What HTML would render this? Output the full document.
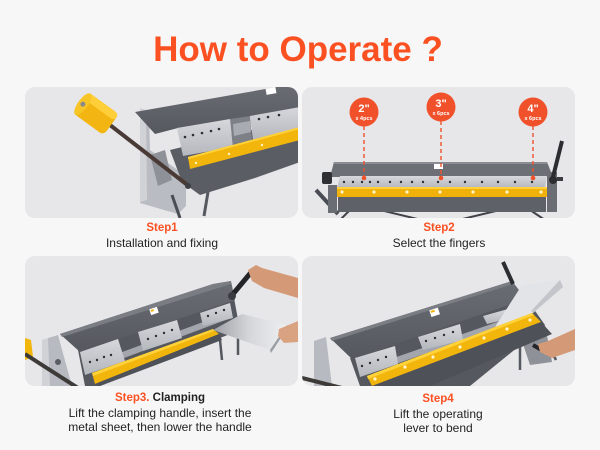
<!DOCTYPE html>
<html><head><meta charset="utf-8"><style>
html,body{margin:0;padding:0;background:#f7f7f7;}
svg{display:block;}
</style></head><body>
<svg width="600" height="450" viewBox="0 0 600 450" xmlns="http://www.w3.org/2000/svg" font-family="'Liberation Sans', sans-serif">
<defs>
<clipPath id="c1"><rect x="25" y="87" width="273" height="131" rx="10"/></clipPath>
<clipPath id="c2"><rect x="302" y="87" width="273" height="131" rx="10"/></clipPath>
<clipPath id="c3"><rect x="25" y="256" width="273" height="130" rx="10"/></clipPath>
<clipPath id="c4"><rect x="302" y="256" width="273" height="130" rx="10"/></clipPath>
<linearGradient id="sil" x1="0" y1="0" x2="0" y2="1"><stop offset="0" stop-color="#d6d8dc"/><stop offset="1" stop-color="#b4b7bd"/></linearGradient>
<linearGradient id="sheet" x1="0" y1="0" x2="1" y2="0"><stop offset="0" stop-color="#9da0a6"/><stop offset="0.5" stop-color="#d6d7da"/><stop offset="1" stop-color="#eeeff1"/></linearGradient>
<linearGradient id="beam" x1="0" y1="0" x2="0" y2="1"><stop offset="0" stop-color="#6a6d74"/><stop offset="1" stop-color="#55585e"/></linearGradient>
</defs>
<rect width="600" height="450" fill="#f7f7f7"/>
<text x="298" y="61" text-anchor="middle" font-size="35" font-weight="bold" fill="#fb5122">How to Operate ?</text>

<!-- Panel 1 -->
<g clip-path="url(#c1)">
<rect x="25" y="87" width="273" height="131" fill="#e7e7e9"/>
<!-- legs -->
<line x1="210" y1="180" x2="204" y2="216" stroke="#55585e" stroke-width="3"/>
<line x1="285" y1="155" x2="240" y2="175" stroke="#6a6d74" stroke-width="2"/>
<!-- left frame -->
<polygon points="140,108 149,112 150,150 186,176 186,206 178,214 140,203" fill="#b9bcc2"/>
<polygon points="140,108 146,110 147,200 140,202" fill="#d0d2d6"/>
<line x1="172" y1="195" x2="180" y2="218" stroke="#4a4d53" stroke-width="3"/>
<!-- lower body -->
<polygon points="170,150 300,118 300,162 255,178 200,195 182,182" fill="#5a5d63"/>
<!-- beam -->
<polygon points="135,112 288,85 300,85 300,108 230,120 178,128 155,134" fill="url(#beam)"/>
<rect x="266" y="88" width="10" height="6" fill="#fff" transform="rotate(-10 271 91)"/>
<!-- plates -->
<polygon points="177,128 230,119 233,147 183,156" fill="url(#sil)"/>
<polygon points="230,119 250,116 252,140 233,147" fill="#7d8087"/>
<polygon points="233,124 250,121 251,132 234,136" fill="#a8abb1"/>
<polygon points="250,116 300,107 300,133 253,140" fill="url(#sil)"/>
<g fill="#2d2f33">
<circle cx="185" cy="137" r="1.3"/><circle cx="193" cy="135" r="1.3"/><circle cx="202" cy="133" r="1.3"/><circle cx="211" cy="131" r="1.3"/><circle cx="219" cy="129" r="1.3"/>
<circle cx="259" cy="119" r="1.3"/><circle cx="268" cy="117" r="1.3"/><circle cx="279" cy="115" r="1.3"/>
</g>
<!-- yellow bar -->
<polygon points="188,157 300,127 300,140 190,169" fill="#f2b50c"/>
<polygon points="188,157 300,127 300,129 188,159" fill="#ffd23a"/>
<circle cx="196" cy="163" r="1.2" fill="#fff3c0"/><circle cx="229" cy="154" r="1.2" fill="#fff3c0"/><circle cx="262" cy="145" r="1.2" fill="#fff3c0"/>
<!-- rod & mechanism -->
<polygon points="150,155 165,150 172,180 158,186" fill="#8e9197"/>
<line x1="110" y1="125" x2="190" y2="187" stroke="#4a3a35" stroke-width="4"/>
<circle cx="188" cy="186" r="3" fill="#3d3f44"/>
<!-- cylinder -->
<g transform="rotate(36 95 113)">
<rect x="77" y="100" width="38" height="26" rx="5" fill="#f3b512"/>
<rect x="77" y="100" width="38" height="8" rx="4" fill="#ffcf3a"/>
<ellipse cx="80" cy="113" rx="5" ry="13" fill="#f8c526"/>
<circle cx="80" cy="113" r="2.5" fill="#8a8a8a"/>
</g>
</g>
<text x="162" y="231" text-anchor="middle" font-size="11.5" font-weight="bold" fill="#fb5122">Step1</text>
<text x="162" y="247" text-anchor="middle" font-size="12" fill="#222">Installation and fixing</text>

<!-- Panel 2 -->
<g clip-path="url(#c2)">
<rect x="302" y="87" width="273" height="131" fill="#e7e7e9"/>
<!-- legs -->
<g stroke="#3f4247" stroke-width="2">
<line x1="350" y1="210" x2="340" y2="220"/><line x1="380" y1="210" x2="430" y2="222"/><line x1="500" y1="210" x2="450" y2="222"/><line x1="530" y1="210" x2="545" y2="220"/>
</g>
<!-- body -->
<rect x="338" y="196" width="208" height="16" fill="#5e6168"/>
<!-- top plate -->
<polygon points="334,162 547,162 553,177 330,177" fill="#6c6f76"/>
<polygon points="334,162 547,162 548,164 333,164" fill="#8a8d93"/>
<rect x="434" y="164" width="9" height="5" fill="#fff"/>
<!-- silver strip -->
<polygon points="340,176 547,176 545,188 337,188" fill="url(#sil)"/>
<g fill="#2d2f33">
<circle cx="344" cy="182" r="1.2"/><circle cx="353" cy="182" r="1.2"/><circle cx="362" cy="182" r="1.2"/><circle cx="370" cy="182" r="1.2"/><circle cx="378" cy="182" r="1.2"/><circle cx="390" cy="182" r="1.2"/><circle cx="401" cy="182" r="1.2"/><circle cx="412" cy="182" r="1.2"/><circle cx="423" cy="182" r="1.2"/><circle cx="438" cy="182" r="1.2"/><circle cx="450" cy="182" r="1.2"/><circle cx="465" cy="182" r="1.2"/><circle cx="482" cy="182" r="1.2"/><circle cx="498" cy="182" r="1.2"/><circle cx="515" cy="182" r="1.2"/><circle cx="532" cy="182" r="1.2"/>
</g>
<!-- yellow bar -->
<rect x="337" y="187" width="211" height="10" fill="#f0b20a"/>
<rect x="337" y="187" width="211" height="2" fill="#ffd03a"/>
<g fill="#fff4cc">
<circle cx="342" cy="192" r="1.6"/><circle cx="374" cy="192" r="1.6"/><circle cx="407" cy="192" r="1.6"/><circle cx="440" cy="192" r="1.6"/><circle cx="473" cy="192" r="1.6"/><circle cx="507" cy="192" r="1.6"/><circle cx="541" cy="192" r="1.6"/>
</g>
<!-- left mechanism -->
<rect x="322" y="172" width="10" height="12" rx="2" fill="#2e3034"/>
<line x1="316" y1="190" x2="338" y2="214" stroke="#4a4d53" stroke-width="4"/>
<rect x="328" y="185" width="9" height="28" fill="#6a6d73"/>
<!-- right mechanism -->
<rect x="547" y="172" width="10" height="40" fill="#6a6d73"/>
<line x1="562" y1="141" x2="553" y2="177" stroke="#2b2d31" stroke-width="4"/>
<circle cx="553" cy="180" r="4" fill="#2b2d31"/>
<rect x="557" y="177" width="6" height="4" fill="#3a3c40"/>
<!-- callouts -->
<g stroke="#f0502a" stroke-width="1.4" stroke-dasharray="4 3">
<line x1="364" y1="126" x2="364" y2="176"/><line x1="441" y1="121" x2="441" y2="176"/><line x1="533" y1="126" x2="533" y2="176"/>
</g>
<g fill="#f0502a">
<circle cx="364" cy="178" r="2.3"/><circle cx="441" cy="178" r="2.3"/><circle cx="533" cy="178" r="2.3"/>
<circle cx="364" cy="112" r="14.5"/><circle cx="441" cy="107" r="14.5"/><circle cx="533" cy="112" r="14.5"/>
</g>
<g fill="#fff" font-weight="bold" text-anchor="middle">
<text x="364" y="112" font-size="11">2"</text><text x="364" y="120" font-size="5.5">x 4pcs</text>
<text x="441" y="107" font-size="11">3"</text><text x="441" y="115" font-size="5.5">x 6pcs</text>
<text x="533" y="112" font-size="11">4"</text><text x="533" y="120" font-size="5.5">x 6pcs</text>
</g>
</g>
<text x="439" y="231" text-anchor="middle" font-size="11.5" font-weight="bold" fill="#fb5122">Step2</text>
<text x="439" y="247" text-anchor="middle" font-size="12" fill="#222">Select the fingers</text>

<!-- Panel 3 -->
<g clip-path="url(#c3)">
<rect x="25" y="256" width="273" height="130" fill="#e7e7e9"/>
<!-- right stand legs -->
<g stroke="#55585e" stroke-width="2.5">
<line x1="218" y1="320" x2="222" y2="360"/><line x1="238" y1="318" x2="238" y2="355"/>
</g>
<!-- left frame -->
<polygon points="42,340 58,335 72,386 42,386" fill="#b7bac0"/>
<polygon points="42,340 48,338 50,386 42,386" fill="#d0d2d6"/>
<!-- recess / lower body -->
<polygon points="78,350 234,298 240,330 100,386 85,386" fill="#55585e"/>
<polygon points="90,364 230,312 231,318 92,370" fill="#a3a6ac"/>
<!-- beam -->
<polygon points="60,334 213,284 231,281 235,300 80,352" fill="url(#beam)"/>
<polygon points="60,334 213,284 231,281 231,284 62,337" fill="#7a7d84"/>
<rect x="150" y="308" width="8" height="6" fill="#fff" transform="rotate(-18 154 311)"/>
<rect x="151" y="309" width="3" height="2" fill="#f2b50c" transform="rotate(-18 154 311)"/>
<!-- plates -->
<polygon points="80,352 118,339 125,361 85,375" fill="url(#sil)"/>
<polygon points="138,332 177,320 182,338 143,351" fill="url(#sil)"/>
<polygon points="200,313 230,303 233,318 203,326" fill="url(#sil)"/>
<g fill="#2d2f33">
<circle cx="90" cy="362" r="1.2"/><circle cx="97" cy="360" r="1.2"/><circle cx="104" cy="357" r="1.2"/><circle cx="111" cy="355" r="1.2"/>
<circle cx="148" cy="339" r="1.2"/><circle cx="156" cy="336" r="1.2"/><circle cx="164" cy="333" r="1.2"/><circle cx="172" cy="330" r="1.2"/>
<circle cx="208" cy="316" r="1.2"/><circle cx="216" cy="313" r="1.2"/><circle cx="224" cy="310" r="1.2"/>
</g>
<!-- yellow bar -->
<polygon points="92,373 213,329 219,334 95,384" fill="#f2b50c"/>
<polygon points="92,373 213,329 214,331 93,376" fill="#ffd23a"/>
<polygon points="95,384 219,334 222,340 100,386" fill="#4e5157"/>
<!-- sheet -->
<polygon points="213,330 242,314 287,325 270,350" fill="url(#sheet)"/>
<polygon points="270,350 287,325 288,327 271,353" fill="#9a9da3"/>
<!-- handle -->
<line x1="233" y1="294" x2="253" y2="270" stroke="#222428" stroke-width="5"/>
<circle cx="232" cy="296" r="4" fill="#3a3c40"/>
<!-- arms -->
<polygon points="248,270 256,265 262,268 298,278 298,298 264,288 252,281" fill="#d49a78"/>
<polygon points="279,329 298,321 298,342 284,343 278,336" fill="#d9a382"/>
<!-- left yellow & rod -->
<polygon points="25,338 31,340 33,357 25,360" fill="#f2b50c"/>
<line x1="25" y1="354" x2="78" y2="388" stroke="#3d3a38" stroke-width="4"/>
<circle cx="58" cy="362" r="3" fill="#5a5d63"/>
</g>
<text x="160" y="401" text-anchor="middle" font-size="11.5" font-weight="bold" fill="#fb5122">Step3.<tspan fill="#222"> Clamping</tspan></text>
<text x="160" y="417" text-anchor="middle" font-size="12" fill="#222">Lift the clamping handle, insert the</text>
<text x="160" y="431" text-anchor="middle" font-size="12" fill="#222">metal sheet, then lower the handle</text>

<!-- Panel 4 -->
<g clip-path="url(#c4)">
<rect x="302" y="256" width="273" height="130" fill="#e7e7e9"/>
<!-- right stand -->
<g stroke="#55585e" stroke-width="2.5">
<line x1="540" y1="330" x2="556" y2="360"/><line x1="520" y1="340" x2="520" y2="370"/>
</g>
<polygon points="520,335 545,325 552,362 530,365" fill="#8e9197"/>
<!-- left frame -->
<polygon points="314,341 326,337 332,386 314,386" fill="#b7bac0"/>
<line x1="302" y1="378" x2="342" y2="388" stroke="#3d3a38" stroke-width="4"/>
<!-- recess / body -->
<polygon points="350,358 526,298 545,325 470,386 360,386" fill="#55585e"/>
<polygon points="365,368 520,314 521,320 367,374" fill="#a3a6ac"/>
<!-- beam -->
<polygon points="330,338 512,281 526,299 352,359" fill="url(#beam)"/>
<polygon points="330,338 512,281 513,284 332,341" fill="#7a7d84"/>
<rect x="430" y="309" width="9" height="7" fill="#fff" transform="rotate(-18 434 312)"/>
<rect x="431" y="310" width="4" height="2" fill="#f2b50c" transform="rotate(-18 434 312)"/>
<!-- plates -->
<polygon points="355,358 395,346 398,364 360,377" fill="url(#sil)"/>
<polygon points="418,337 460,324 463,340 423,350" fill="url(#sil)"/>
<polygon points="483,316 508,309 508,319 487,324" fill="url(#sil)"/>
<g fill="#2d2f33">
<circle cx="362" cy="366" r="1.2"/><circle cx="370" cy="363" r="1.2"/><circle cx="378" cy="360" r="1.2"/><circle cx="386" cy="357" r="1.2"/>
<circle cx="426" cy="341" r="1.2"/><circle cx="435" cy="338" r="1.2"/><circle cx="444" cy="335" r="1.2"/><circle cx="453" cy="332" r="1.2"/>
</g>
<!-- sheet bent up -->
<polygon points="522,285 560,280 563,287 533,313 495,327" fill="#e3e4e7"/>
<polygon points="560,280 563,287 533,313 531,311" fill="#c3c5ca"/>
<!-- yellow bar -->
<polygon points="367,376 532,313 541,322 372,386" fill="#f2b50c"/>
<polygon points="367,376 532,313 534,315 368,379" fill="#ffd23a"/>
<g fill="#fff4cc">
<circle cx="375" cy="379" r="1.6"/><circle cx="405" cy="367" r="1.6"/><circle cx="433" cy="357" r="1.6"/><circle cx="460" cy="347" r="1.6"/><circle cx="484" cy="338" r="1.6"/><circle cx="507" cy="329" r="1.6"/><circle cx="530" cy="320" r="1.6"/>
</g>
<polygon points="372,386 541,322 552,334 430,386" fill="#4e5157"/>
<!-- handle -->
<line x1="503" y1="262" x2="513" y2="284" stroke="#2b2d31" stroke-width="4"/>
<!-- arm -->
<line x1="533" y1="345" x2="545" y2="352" stroke="#222428" stroke-width="4"/>
<polygon points="538,344 548,341 575,329 575,350 552,358 540,352" fill="#d49a78"/>
</g>
<text x="438" y="402" text-anchor="middle" font-size="11.5" font-weight="bold" fill="#fb5122">Step4</text>
<text x="438" y="418" text-anchor="middle" font-size="12" fill="#222">Lift the operating</text>
<text x="438" y="432" text-anchor="middle" font-size="12" fill="#222">lever to bend</text>
</svg>
</body></html>
